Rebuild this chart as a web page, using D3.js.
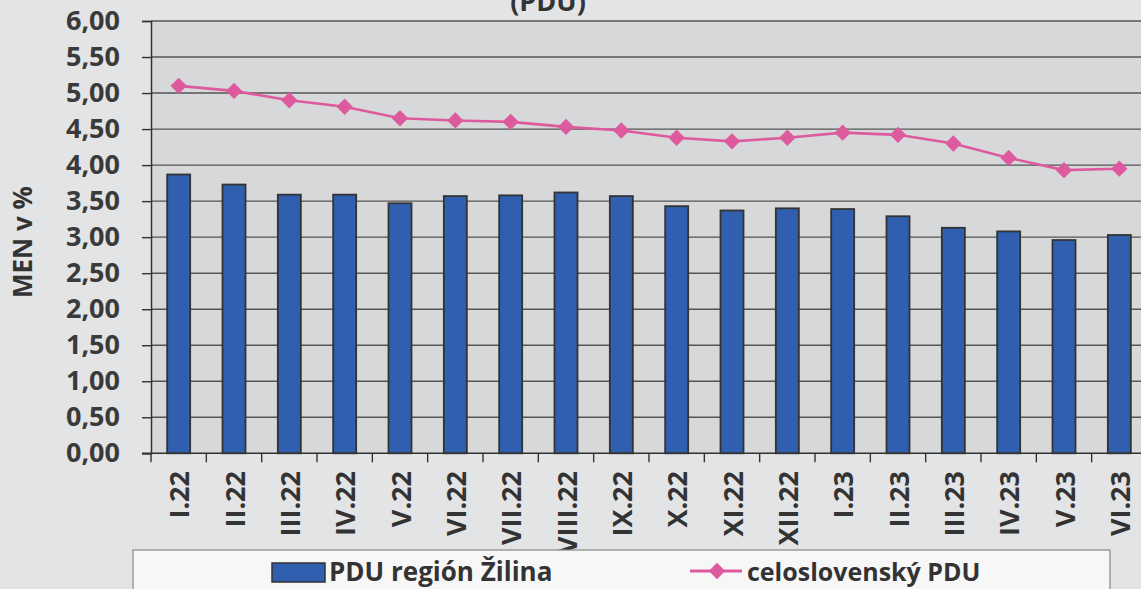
<!DOCTYPE html>
<html><head><meta charset="utf-8">
<script src="https://cdn.jsdelivr.net/npm/d3@7"></script>
<style>
html,body{margin:0;padding:0;background:#e3e4e6;}
svg{display:block;font-family:"Open Sans",sans-serif;font-weight:bold;}
</style></head>
<body><svg id="c" width="1141" height="589"></svg>
<script>
const categories = ["I.22","II.22","III.22","IV.22","V.22","VI.22","VII.22","VIII.22","IX.22","X.22","XI.22","XII.22","I.23","II.23","III.23","IV.23","V.23","VI.23"];
const regionZilina = [3.87,3.73,3.59,3.59,3.47,3.57,3.58,3.62,3.57,3.43,3.37,3.40,3.39,3.29,3.13,3.08,2.96,3.03];
const celoslovensky = [5.10,5.03,4.90,4.81,4.65,4.62,4.60,4.53,4.48,4.38,4.33,4.38,4.45,4.42,4.30,4.10,3.93,3.95];
const yTicks = [0,0.5,1,1.5,2,2.5,3,3.5,4,4.5,5,5.5,6];
const seriesNames = ["PDU región Žilina","celoslovenský PDU"];
const titleText = "(PDU)";
const yTitle = "MEN v %";

const svg = d3.select("#c");
const L = 151, R = 1147, T = 21, B = 453.3;
const x = d3.scaleBand().domain(categories).range([L, R]).paddingInner(0).paddingOuter(0);
const y = d3.scaleLinear().domain([0, 6]).range([B, T]);
const fmt = v => d3.format(".2f")(v).replace(".", ",");

svg.append("rect").attr("x",0).attr("y",0).attr("width",1141).attr("height",589).attr("fill","#e3e4e6");
svg.append("rect").attr("x",L).attr("y",T).attr("width",R-L).attr("height",B-T).attr("fill","#d7d8da");

// title (partially cut at the top edge, as in the reference)
svg.append("text").attr("x",548).attr("y",11).attr("text-anchor","middle")
  .attr("font-size",27).attr("fill","#333").text(titleText);

// gridlines
svg.append("g").selectAll("line").data(yTicks.filter(d=>d>0)).join("line")
  .attr("x1",L).attr("x2",R).attr("y1",d=>y(d)).attr("y2",d=>y(d))
  .attr("stroke","#555").attr("stroke-width",1.4);

// y axis
const ya = svg.append("g").attr("transform",`translate(${L},0)`)
  .call(d3.axisLeft(y).tickValues(yTicks).tickFormat(fmt).tickSize(9).tickPadding(22));
ya.select(".domain").attr("stroke","#333").attr("stroke-width",1.5);
ya.selectAll(".tick line").attr("stroke","#333").attr("stroke-width",1.4);
ya.selectAll("text").attr("font-size",27).attr("font-family","Open Sans").attr("font-weight","bold").attr("fill","#3a3a3a");

// bars
const bw = 23;
svg.append("g").selectAll("rect").data(regionZilina).join("rect")
  .attr("x",(d,i)=>x(categories[i])+x.bandwidth()/2-bw/2)
  .attr("y",d=>y(d)).attr("width",bw).attr("height",d=>B-y(d))
  .attr("fill","#2f5fae").attr("stroke","#333").attr("stroke-width",1.8);

// x axis
const xa = svg.append("g").attr("transform",`translate(0,${B})`);
xa.append("line").attr("x1",L-9).attr("x2",R).attr("y1",0).attr("y2",0).attr("stroke","#333").attr("stroke-width",1.5);
const bounds = categories.map(c=>x(c)).concat([R]);
xa.selectAll("line.t").data(bounds).join("line").attr("class","t")
  .attr("x1",d=>d).attr("x2",d=>d).attr("y1",0).attr("y2",9).attr("stroke","#333").attr("stroke-width",1.4);
svg.append("g").selectAll("text").data(categories).join("text")
  .attr("transform",d=>`translate(${x(d)+x.bandwidth()/2+1},471) rotate(-90)`)
  .attr("text-anchor","end").attr("dy","0.36em")
  .attr("font-size",27).attr("fill","#333").text(d=>d);

// line
const line = d3.line().x((d,i)=>x(categories[i])+x.bandwidth()/2).y(d=>y(d));
svg.append("path").datum(celoslovensky).attr("d",line).attr("fill","none")
  .attr("stroke","#de5a9e").attr("stroke-width",2.6);
const diamond = d3.symbol().type(d3.symbolDiamond2).size(170);
svg.append("g").selectAll("path").data(celoslovensky).join("path")
  .attr("transform",(d,i)=>`translate(${x(categories[i])+x.bandwidth()/2},${y(d)})`)
  .attr("d",diamond).attr("fill","#de5a9e");

// y title
svg.append("text").attr("transform","translate(23,242) rotate(-90)").attr("text-anchor","middle")
  .attr("dy","0.35em").attr("font-size",26).attr("fill","#333").text(yTitle);

// legend
svg.append("rect").attr("x",133).attr("y",550).attr("width",977).attr("height",60)
  .attr("fill","#f7f7f7").attr("stroke","#888").attr("stroke-width",1.2);
svg.append("rect").attr("x",272).attr("y",563).attr("width",53).attr("height",19)
  .attr("fill","#2f5fae").attr("stroke","#333").attr("stroke-width",1.5);
svg.append("text").attr("x",329).attr("y",581).attr("font-size",26).attr("fill","#333").text(seriesNames[0]);
svg.append("line").attr("x1",690).attr("x2",742).attr("y1",571).attr("y2",571).attr("stroke","#de5a9e").attr("stroke-width",3);
svg.append("path").attr("transform","translate(717,571)").attr("d",diamond).attr("fill","#de5a9e");
svg.append("text").attr("x",747).attr("y",581).attr("font-size",25).attr("fill","#333").text(seriesNames[1]);
</script></body></html>
